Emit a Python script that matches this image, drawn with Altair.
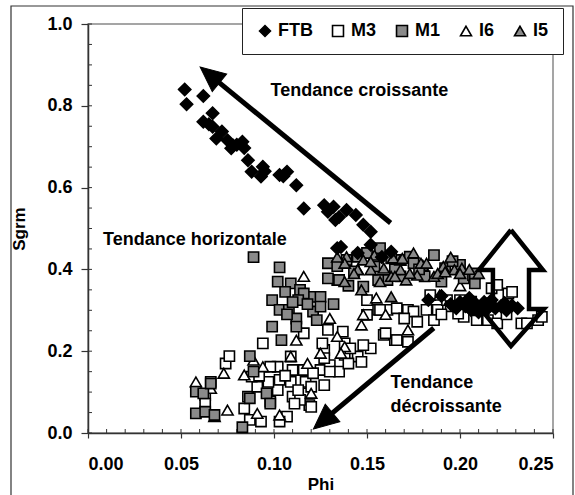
import math
import altair as alt
import pandas as pd

# ---------------- data ----------------
ftb_x = [0.052, 0.053, 0.062, 0.067, 0.062, 0.065, 0.067, 0.072, 0.069, 0.075, 0.077, 0.080,
         0.083, 0.084, 0.078, 0.086, 0.088, 0.094, 0.093, 0.095, 0.103, 0.107, 0.105, 0.112,
         0.116, 0.127, 0.132, 0.133, 0.139, 0.129, 0.144, 0.148, 0.152, 0.135,
         0.134, 0.136, 0.152, 0.163, 0.158, 0.145, 0.183,
         0.190, 0.195, 0.198, 0.200, 0.203, 0.206, 0.208, 0.211, 0.214, 0.216,
         0.219, 0.222, 0.225, 0.228, 0.231, 0.217, 0.205, 0.210, 0.224, 0.213]
ftb_y = [0.840, 0.804, 0.824, 0.782, 0.761, 0.755, 0.749, 0.737, 0.720, 0.716, 0.696, 0.705,
         0.712, 0.697, 0.703, 0.667, 0.639, 0.651, 0.627, 0.640, 0.631, 0.639, 0.628, 0.606,
         0.549, 0.557, 0.553, 0.521, 0.545, 0.541, 0.533, 0.509, 0.492, 0.528,
         0.452, 0.455, 0.460, 0.443, 0.430, 0.440, 0.325,
         0.335, 0.315, 0.305, 0.320, 0.310, 0.300, 0.318, 0.308, 0.300, 0.315,
         0.305, 0.310, 0.300, 0.312, 0.305, 0.325, 0.330, 0.295, 0.318, 0.320]

m3_x = [0.066, 0.063, 0.063, 0.074, 0.076, 0.086, 0.084, 0.093, 0.107, 0.091, 0.098, 0.094,
        0.102, 0.103, 0.102, 0.109, 0.110, 0.109, 0.110, 0.116, 0.117, 0.118, 0.119, 0.127,
        0.125, 0.130, 0.135, 0.127, 0.126, 0.129, 0.137, 0.138, 0.138, 0.145, 0.147, 0.152,
        0.148, 0.159, 0.165, 0.172, 0.098, 0.088, 0.103, 0.087, 0.116, 0.121, 0.127, 0.120,
        0.114, 0.111, 0.120, 0.130, 0.141, 0.106, 0.113, 0.097, 0.092, 0.140,
        0.156, 0.161, 0.166, 0.172, 0.150, 0.150, 0.175, 0.182, 0.188, 0.186, 0.177, 0.184,
        0.193, 0.200, 0.202, 0.209, 0.215, 0.220, 0.226, 0.233, 0.242, 0.244, 0.217, 0.199,
        0.206, 0.215, 0.220, 0.228, 0.236, 0.160, 0.166, 0.157, 0.170, 0.195, 0.210, 0.225, 0.190]
m3_y = [0.125, 0.093, 0.072, 0.170, 0.188, 0.089, 0.060, 0.028, 0.040, 0.113, 0.077, 0.219,
        0.162, 0.130, 0.105, 0.187, 0.154, 0.125, 0.089, 0.154, 0.125, 0.097, 0.068, 0.117,
        0.154, 0.166, 0.150, 0.203, 0.219, 0.252, 0.248, 0.219, 0.191, 0.187, 0.174, 0.207,
        0.215, 0.240, 0.227, 0.223, 0.162, 0.138, 0.028, 0.032, 0.244, 0.146, 0.183, 0.113,
        0.081, 0.072, 0.064, 0.150, 0.207, 0.140, 0.105, 0.125, 0.140, 0.170,
        0.301, 0.301, 0.305, 0.301, 0.325, 0.289, 0.297, 0.301, 0.301, 0.276, 0.272, 0.337,
        0.325, 0.325, 0.284, 0.276, 0.276, 0.268, 0.341, 0.268, 0.276, 0.284, 0.354, 0.292,
        0.321, 0.317, 0.362, 0.345, 0.268, 0.244, 0.227, 0.301, 0.280, 0.310, 0.300, 0.290, 0.290]

m1_x = [0.089, 0.103, 0.102, 0.109, 0.099, 0.103, 0.108, 0.114, 0.120, 0.125, 0.132, 0.121,
        0.125, 0.112, 0.123, 0.112, 0.099, 0.104, 0.087, 0.089, 0.096, 0.087, 0.083, 0.058,
        0.062, 0.058, 0.063, 0.068, 0.066, 0.098, 0.116, 0.113, 0.134, 0.129, 0.106, 0.118,
        0.110, 0.107,
        0.129, 0.134, 0.139, 0.145, 0.157, 0.154, 0.161, 0.168, 0.148, 0.168, 0.135, 0.163,
        0.173, 0.186, 0.192, 0.202, 0.207, 0.156, 0.181, 0.208, 0.208, 0.175, 0.200, 0.143,
        0.150, 0.178, 0.190, 0.196, 0.140, 0.165]
m1_y = [0.430, 0.405, 0.370, 0.366, 0.325, 0.301, 0.301, 0.350, 0.333, 0.333, 0.315, 0.297,
        0.309, 0.280, 0.276, 0.260, 0.260, 0.227, 0.188, 0.150, 0.097, 0.085, 0.014, 0.101,
        0.097, 0.048, 0.052, 0.044, 0.121, 0.072, 0.341, 0.325, 0.374, 0.378, 0.345, 0.315,
        0.320, 0.290,
        0.415, 0.408, 0.423, 0.431, 0.452, 0.407, 0.374, 0.383, 0.358, 0.423, 0.374, 0.427,
        0.431, 0.435, 0.403, 0.378, 0.386, 0.374, 0.383, 0.366, 0.390, 0.415, 0.411, 0.395,
        0.440, 0.400, 0.370, 0.420, 0.360, 0.400]

i6_x = [0.058, 0.066, 0.068, 0.075, 0.073, 0.084, 0.089, 0.094, 0.091, 0.103, 0.116, 0.112,
        0.109, 0.120, 0.125, 0.134, 0.138, 0.148, 0.147, 0.136, 0.172, 0.160, 0.189, 0.130,
        0.155, 0.145, 0.180, 0.200, 0.118]
i6_y = [0.125, 0.109, 0.040, 0.056, 0.146, 0.142, 0.178, 0.162, 0.048, 0.044, 0.383, 0.227,
        0.187, 0.097, 0.195, 0.236, 0.211, 0.289, 0.264, 0.195, 0.252, 0.290, 0.337, 0.280,
        0.330, 0.400, 0.410, 0.360, 0.170]

i5_x = [0.139, 0.148, 0.154, 0.145, 0.152, 0.168, 0.179, 0.182, 0.191, 0.197, 0.201, 0.138,
        0.157, 0.163, 0.171, 0.177, 0.186, 0.138, 0.143, 0.152, 0.159, 0.147, 0.168, 0.163,
        0.164, 0.169, 0.188, 0.192, 0.200, 0.173, 0.165, 0.205, 0.210, 0.195, 0.134, 0.175]
i5_y = [0.431, 0.423, 0.435, 0.399, 0.399, 0.423, 0.415, 0.415, 0.407, 0.399, 0.403, 0.370,
        0.370, 0.383, 0.374, 0.386, 0.383, 0.415, 0.390, 0.419, 0.403, 0.350, 0.399, 0.333,
        0.428, 0.427, 0.390, 0.394, 0.390, 0.390, 0.383, 0.400, 0.390, 0.430, 0.430, 0.440]

series = ["FTB", "M3", "M1", "I6", "I5"]
x_ticks = [0.00, 0.05, 0.10, 0.15, 0.20, 0.25]
y_ticks = [0.0, 0.2, 0.4, 0.6, 0.8, 1.0]
x_minor = [round(i * 0.01, 2) for i in range(26)]
y_minor = [round(i * 0.05, 2) for i in range(21)]

# annotations (data units)
arrow_tail_x = [0.1627, 0.1859]
arrow_tail_y = [0.5134, 0.2567]
arrow_tip_x = [0.0603, 0.1212]
arrow_tip_y = [0.8949, 0.0098]

dbl_x = [0.2274, 0.2446, 0.2371, 0.2371, 0.2451, 0.2274, 0.2112, 0.2177, 0.2177, 0.2101, 0.2274]
dbl_y = [0.4963, 0.3985, 0.3985, 0.3032, 0.3032, 0.2127, 0.3032, 0.3032, 0.3985, 0.3985, 0.4963]

note_text = ["Tendance croissante", "Tendance horizontale", "Tendance", "décroissante"]
note_x = [0.0981, 0.0081, 0.1627, 0.1627]
note_y = [0.836, 0.472, 0.122, 0.064]

# ---------------- layout ----------------
W, H = 465, 409
XMAX, YMAX = 0.25, 1.0
FONT = "Liberation Sans"
SIZES = {"FTB": 150, "M3": 105, "M1": 105, "I6": 125, "I5": 125}

rows = []
for name, xs, ys in [("M3", m3_x, m3_y), ("I6", i6_x, i6_y), ("M1", m1_x, m1_y),
                     ("I5", i5_x, i5_y), ("FTB", ftb_x, ftb_y)]:
    for a, b in zip(xs, ys):
        rows.append({"Phi": a, "Sgrm": b, "serie": name, "sz": SIZES[name]})
df = pd.DataFrame(rows)
df["ord"] = range(len(df))

xscale = alt.Scale(domain=[0, XMAX], nice=False, zero=False)
yscale = alt.Scale(domain=[0, YMAX], nice=False, zero=False)

legend = alt.Legend(
    title=None, orient="none", legendX=154, legendY=-16, direction="horizontal",
    fillColor="white", strokeColor="#222", padding=14, columnPadding=16,
    labelFont=FONT, labelFontSize=18, labelFontWeight="bold", labelColor="black",
    labelOffset=4, symbolSize=120, symbolStrokeWidth=1.6, symbolStrokeColor="black",
    symbolOpacity=1,
)

points = alt.Chart(df).mark_point(filled=True, stroke="black", strokeWidth=1.6, opacity=1).encode(
    x=alt.X("Phi:Q", scale=xscale,
            axis=alt.Axis(values=x_ticks, format=".2f", title="Phi", grid=False,
                          tickSize=5, labelPadding=17, titlePadding=3)),
    y=alt.Y("Sgrm:Q", scale=yscale,
            axis=alt.Axis(values=y_ticks, format=".1f", title="Sgrm", grid=False,
                          tickSize=7, labelPadding=9, titlePadding=18)),
    shape=alt.Shape("serie:N", scale=alt.Scale(domain=series,
                    range=["diamond", "square", "square", "triangle-up", "triangle-up"]),
                    legend=legend),
    fill=alt.Fill("serie:N", scale=alt.Scale(domain=series,
                  range=["black", "white", "#8a8a8a", "white", "#8a8a8a"]),
                  legend=legend),
    stroke=alt.Stroke("serie:N", scale=alt.Scale(domain=series, range=["black"] * 5),
                      legend=legend),
    size=alt.Size("sz:Q", scale=None),
    order=alt.Order("ord:Q"),
)

# minor ticks
xminor = alt.Chart(pd.DataFrame({"t": x_minor})).mark_rule(color="#333", strokeWidth=1).encode(
    x=alt.X("t:Q", scale=xscale), y=alt.value(H), y2=alt.value(H - 4))
yminor = alt.Chart(pd.DataFrame({"t": y_minor})).mark_rule(color="#333", strokeWidth=1).encode(
    y=alt.Y("t:Q", scale=yscale), x=alt.value(0), x2=alt.value(4))

def to_px(x, y):
    return x / XMAX * W, H - y / YMAX * H

def to_data(px, py):
    return px / W * XMAX, (H - py) / H * YMAX

shaft_rows, head_rows = [], []
for k in range(2):
    tx, ty = to_px(arrow_tail_x[k], arrow_tail_y[k])
    hx, hy = to_px(arrow_tip_x[k], arrow_tip_y[k])
    dx, dy = hx - tx, hy - ty
    L = math.hypot(dx, dy)
    ux, uy = dx / L, dy / L
    ang = math.degrees(math.atan2(ux, -uy)) % 360
    ex, ey = to_data(hx - ux * 16, hy - uy * 16)
    shaft_rows += [{"a": k, "i": 0, "x": arrow_tail_x[k], "y": arrow_tail_y[k]},
                   {"a": k, "i": 1, "x": ex, "y": ey}]
    head_rows.append({"x": arrow_tip_x[k], "y": arrow_tip_y[k], "ang": ang})

shafts = alt.Chart(pd.DataFrame(shaft_rows)).mark_line(color="black", strokeWidth=5).encode(
    x=alt.X("x:Q", scale=xscale), y=alt.Y("y:Q", scale=yscale),
    detail="a:N", order="i:Q")
heads = alt.Chart(pd.DataFrame(head_rows)).mark_point(
    shape="M0,0L-0.5,1.1L0.5,1.1Z", filled=True, fill="black", stroke="black",
    strokeWidth=1, size=2060, opacity=1).encode(
    x=alt.X("x:Q", scale=xscale), y=alt.Y("y:Q", scale=yscale),
    angle=alt.Angle("ang:Q", scale=None))

dbl = alt.Chart(pd.DataFrame({"x": dbl_x, "y": dbl_y, "i": list(range(len(dbl_x)))})).mark_line(
    color="black", strokeWidth=4.5, strokeJoin="miter").encode(
    x=alt.X("x:Q", scale=xscale), y=alt.Y("y:Q", scale=yscale), order="i:Q")

notes = alt.Chart(pd.DataFrame({"t": note_text, "x": note_x, "y": note_y})).mark_text(
    align="left", baseline="middle", font=FONT, fontSize=18, fontWeight="bold", color="black").encode(
    x=alt.X("x:Q", scale=xscale), y=alt.Y("y:Q", scale=yscale), text="t:N")

frame = alt.Chart(pd.DataFrame({"d": [0]})).mark_rect(
    fill=None, stroke="#333", strokeWidth=1.2).encode(
    x=alt.value(-77), x2=alt.value(485), y=alt.value(-18), y2=alt.value(480))

chart = alt.layer(frame, xminor, yminor, points, dbl, shafts, heads, notes).properties(
    width=W, height=H, background="white",
    autosize=alt.AutoSizeParams(type="none"),
    padding={"left": 88, "top": 24, "right": 22, "bottom": 62},
).configure_view(stroke="#888", strokeWidth=1.5).configure_axis(
    domainColor="#333", domainWidth=1.5, tickColor="#333", tickWidth=1.2,
    labelFont=FONT, labelFontSize=18, labelFontWeight="bold", labelColor="black",
    titleFont=FONT, titleFontSize=17, titleFontWeight="bold", titleColor="black",
)

chart.save("out.html", embed_options={"renderer": "svg", "actions": False})
